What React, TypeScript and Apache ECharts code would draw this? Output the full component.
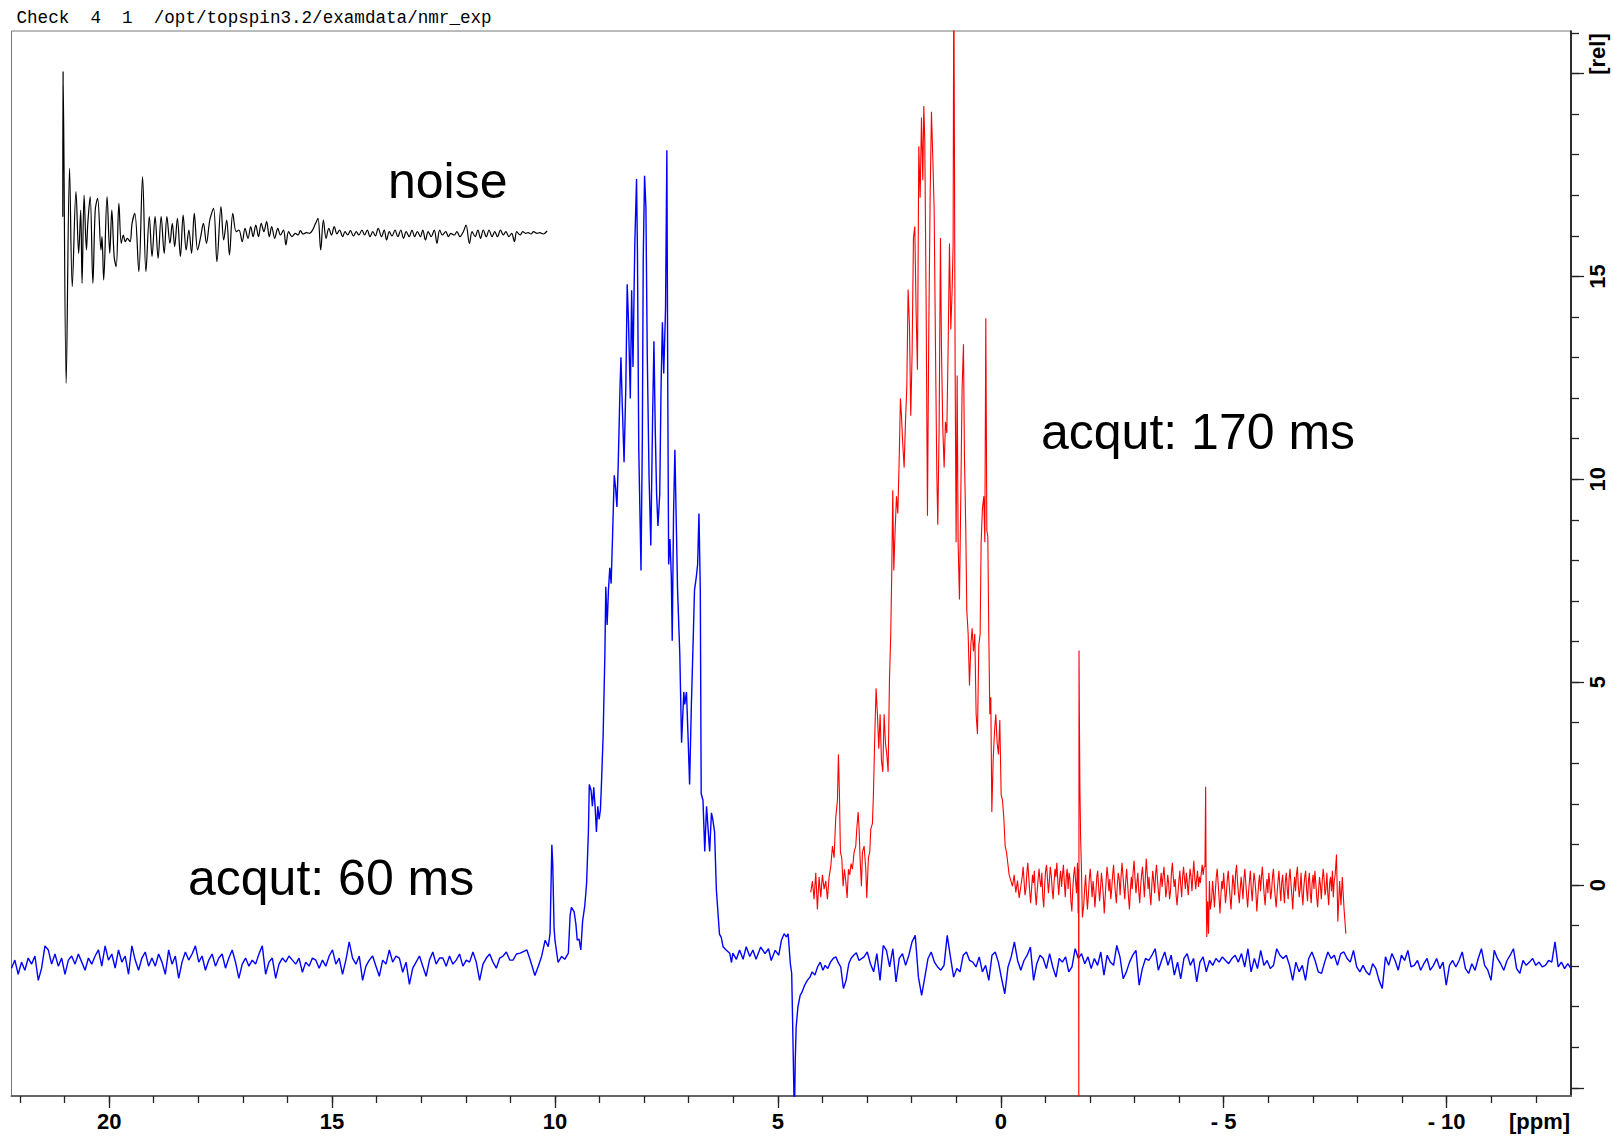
import React, { useEffect, useRef } from 'react';
import * as echarts from 'echarts';

const headerText = 'Check  4  1  /opt/topspin3.2/examdata/nmr_exp';
const xMajorTicks = [20, 15, 10, 5, 0, -5, -10];
const xMinorTicks = [22, 21, 20, 19, 18, 17, 16, 15, 14, 13, 12, 11, 10, 9, 8, 7, 6, 5, 4, 3, 2, 1, 0, -1, -2, -3, -4, -5, -6, -7, -8, -9, -10, -11, -12];
const yMajorTicks = [-5, 0, 5, 10, 15, 20];
const yLabelTicks = [0, 5, 10, 15];
const yMinorTicks = [-5, -4, -3, -2, -1, 0, 1, 2, 3, 4, 5, 6, 7, 8, 9, 10, 11, 12, 13, 14, 15, 16, 17, 18, 19, 20, 21];

// blue spectrum (acqut: 60 ms), ppm / rel
const blueLeftVals = [
  -2.05, -1.85, -2.2, -1.9, -2.1, -1.8, -1.95, -1.75, -2.35, -2.05,
  -1.5, -1.6, -1.95, -1.7, -2.0, -1.8, -2.2, -1.85, -1.75, -1.95,
  -1.7, -1.9, -2.1, -1.8, -1.95, -1.75, -1.6, -2.0, -1.5, -1.85,
  -1.7, -2.05, -1.6, -1.9, -1.75, -2.2, -1.5, -1.85, -2.1, -1.8,
  -1.65, -2.0, -1.8, -2.0, -1.7, -1.9, -2.2, -1.6, -1.95, -1.75,
  -2.3, -1.9, -1.65, -1.85, -1.7, -1.5, -1.9, -1.75, -2.1, -1.85,
  -1.7, -2.0, -1.8, -1.7, -2.05, -1.8, -1.6, -1.9, -2.3, -1.95,
  -1.8, -2.0, -1.85, -1.95, -1.7, -1.5, -2.2, -1.9, -1.8, -2.3,
  -1.95, -1.8, -1.9, -1.75, -1.85, -1.95, -1.8, -2.15, -1.9, -2.0,
  -1.8, -1.85, -2.05, -1.85, -2.0, -1.75, -1.6, -1.95, -1.8, -2.2,
  -1.85, -1.4, -1.8, -1.95, -1.75, -2.35, -2.0, -1.85, -1.75, -2.0,
  -2.25, -1.85, -1.95, -1.6, -1.9, -1.75, -1.8, -2.15, -1.9, -2.45,
  -2.05, -1.9, -1.75, -2.0, -2.25, -1.85, -1.65, -1.95, -1.8, -1.8,
  -2.0, -1.75, -1.95, -1.85, -1.7, -2.0, -1.85, -1.9, -1.65, -1.9,
  -2.35, -1.95, -1.8, -1.7, -1.9, -2.05, -1.8, -1.75, -1.65, -1.85,
  -1.85, -1.7,
];
const bluePeakPairs = [
  [10.78, -1.68], [10.63, -1.6], [10.56, -1.83], [10.45, -2.23], [10.37, -1.99], [10.3, -1.76], [10.22, -1.36], [10.15, -1.52],
  [10.11, -1.2], [10.07, 0.99], [10.05, 0.52], [10.02, -1.05], [10.0, -1.36], [9.93, -1.91], [9.85, -1.76], [9.78, -1.83],
  [9.7, -1.68], [9.66, -0.74], [9.63, -0.55], [9.57, -0.66], [9.53, -0.97], [9.5, -1.36], [9.46, -1.33], [9.42, -1.6],
  [9.38, -0.89], [9.33, -0.5], [9.29, 0.05], [9.25, 1.31], [9.23, 2.48], [9.19, 2.33], [9.16, 1.94], [9.13, 2.41],
  [9.1, 1.94], [9.07, 1.31], [9.04, 1.94], [9.01, 1.62], [8.98, 1.86], [8.96, 2.41], [8.92, 3.66], [8.88, 5.7],
  [8.86, 7.35], [8.83, 6.41], [8.8, 7.27], [8.77, 7.82], [8.74, 7.43], [8.71, 8.53], [8.67, 10.1], [8.64, 9.79],
  [8.61, 9.32], [8.58, 10.42], [8.54, 12.3], [8.52, 13.01], [8.49, 11.83], [8.45, 10.42], [8.41, 12.3], [8.38, 14.81],
  [8.35, 13.87], [8.31, 11.99], [8.28, 14.66], [8.25, 12.77], [8.21, 15.76], [8.17, 17.4], [8.15, 15.6], [8.12, 10.73],
  [8.07, 7.75], [8.04, 11.04], [8.02, 15.44], [7.99, 17.48], [7.96, 16.7], [7.93, 13.09], [7.89, 10.1], [7.85, 8.37],
  [7.81, 11.51], [7.78, 13.4], [7.75, 11.2], [7.72, 9.63], [7.69, 8.85], [7.65, 9.63], [7.62, 12.3], [7.59, 13.87],
  [7.56, 12.61], [7.52, 14.19], [7.49, 18.11], [7.47, 12.3], [7.45, 7.9], [7.42, 8.53], [7.39, 7.59], [7.37, 6.02],
  [7.34, 9.16], [7.31, 10.73], [7.28, 9.0], [7.25, 7.27], [7.2, 5.7], [7.16, 3.51], [7.11, 4.76], [7.09, 4.45],
  [7.05, 4.76], [7.01, 3.51], [6.98, 2.48], [6.94, 4.45], [6.9, 6.02], [6.87, 7.27], [6.83, 7.59], [6.8, 7.9],
  [6.77, 9.16], [6.74, 7.27], [6.72, 2.25], [6.68, 2.09], [6.64, 0.83], [6.6, 1.94], [6.57, 1.46], [6.53, 0.83],
  [6.49, 1.78], [6.46, 1.62], [6.42, 1.31], [6.38, -0.11], [6.34, -0.74], [6.31, -1.21], [6.27, -1.29], [6.23, -1.52],
  [6.16, -1.6], [6.08, -1.68], [6.04, -1.91], [6.01, -1.68], [5.93, -1.83], [5.86, -1.6], [5.78, -1.83], [5.71, -1.52],
  [5.63, -1.76], [5.56, -1.6], [5.49, -1.83],
];
const blueDipPairs = [
  [5.385, -1.53], [5.29, -1.69], [5.21, -1.57], [5.15, -1.86], [5.06, -1.61], [4.98, -1.73], [4.92, -1.36], [4.86, -1.2],
  [4.81, -1.28], [4.77, -1.2], [4.72, -1.94], [4.69, -2.18], [4.66, -3.91], [4.63, -5.8], [4.61, -4.32], [4.59, -3.5],
  [4.55, -3.0], [4.5, -2.72], [4.46, -2.64], [4.4, -2.47], [4.34, -2.35], [4.28, -2.27], [4.23, -2.14], [4.17, -2.22],
  [4.11, -2.02], [4.05, -1.9], [3.99, -2.1], [3.94, -1.98], [3.88, -2.06], [3.82, -1.9], [3.76, -1.81], [3.7, -1.77],
  [3.65, -1.9], [3.59, -2.02], [3.53, -2.55], [3.47, -2.35], [3.41, -1.94], [3.36, -1.81], [3.3, -1.73], [3.24, -1.67],
  [3.18, -1.86],
];
const blueRightVals = [
  -1.77, -1.65, -1.94, -2.14, -1.69, -2.35, -1.49, -1.61, -2.02, -1.57, -2.39, -1.81, -1.69, -1.98, -1.73, -1.4, -1.24, -2.27,
  -2.72, -2.27, -1.81, -1.65, -1.9, -2.02, -2.1, -1.98, -1.24, -1.77, -2.27, -2.06, -2.14, -1.73, -1.65, -1.86, -1.9, -2.02,
  -1.77, -2.14, -1.98, -2.35, -1.73, -1.65, -1.9, -2.31, -2.68, -2.02, -1.77, -1.4, -1.86, -2.1, -1.86, -1.73, -1.53, -2.35,
  -1.94, -1.73, -1.81, -2.06, -1.69, -2.02, -2.27, -1.81, -1.9, -1.77, -2.14, -2.02, -1.57, -1.81, -1.69, -1.94, -1.77, -2.06,
  -1.81, -1.98, -1.65, -2.22, -1.73, -1.9, -1.98, -1.49, -1.77, -2.31, -2.14, -1.9, -1.73, -1.61, -2.47, -2.06, -1.81, -1.86,
  -1.73, -1.57, -2.1, -1.86, -1.65, -1.98, -1.73, -2.22, -1.9, -2.31, -1.81, -1.69, -1.98, -1.81, -2.39, -1.9, -1.77, -2.14,
  -1.86, -1.98, -1.81, -1.9, -1.77, -1.86, -1.94, -1.81, -1.73, -1.9, -1.69, -2.02, -1.57, -2.14, -1.81, -2.06, -1.61, -1.98,
  -1.86, -2.06, -1.98, -1.57, -1.73, -1.81, -1.73, -1.98, -2.35, -1.9, -2.14, -1.98, -2.35, -1.81, -1.65, -1.86, -2.14, -2.18,
  -1.9, -1.65, -1.81, -1.73, -1.98, -1.69, -1.65, -1.81, -1.9, -1.61, -2.02, -2.14, -1.98, -2.14, -2.22, -1.94, -2.06, -2.35,
  -2.55, -1.77, -1.98, -1.69, -1.86, -2.1, -1.73, -1.86, -1.61, -2.02, -1.98, -1.86, -2.1, -1.94, -1.81, -2.1, -1.98, -1.81,
  -2.06, -1.9, -2.47, -1.98, -1.86, -2.02, -1.86, -1.65, -2.06, -2.18, -1.94, -2.1, -1.81, -1.57, -1.98, -2.1, -2.35, -1.61,
  -1.81, -1.94, -2.1, -1.86, -1.73, -1.57, -2.06, -2.18, -1.86, -1.98, -1.9, -1.81, -1.98, -1.9, -2.02, -1.98, -1.86, -1.9,
  -1.4, -2.02, -1.9, -2.06, -1.94, -2.06,
];

// red spectrum (acqut: 170 ms)
const redPeakPairs = [
  [4.263, -0.18], [4.225, 0.1], [4.188, -0.35], [4.15, 0.3], [4.113, -0.6], [4.076, 0.2], [4.038, -0.3], [4.001, 0.25],
  [3.963, -0.1], [3.926, 0.1], [3.889, -0.35], [3.851, 0.2], [3.814, 0.45], [3.776, 0.96], [3.739, 0.67], [3.702, 1.66],
  [3.664, 2.09], [3.642, 3.22], [3.619, 2.23], [3.597, 0.81], [3.567, 0.67], [3.537, -0.03], [3.507, 0.39], [3.477, 0.1],
  [3.447, -0.32], [3.417, 0.39], [3.388, 0.25], [3.358, 0.53], [3.328, 0.39], [3.29, 0.81], [3.253, 0.96], [3.23, 1.38],
  [3.2, 1.8], [3.178, 1.38], [3.156, 0.67], [3.126, -0.03], [3.103, 0.81], [3.066, 0.96], [3.028, 0.39], [3.006, -0.32],
  [2.969, 0.67], [2.939, 0.81], [2.916, 1.38], [2.879, 1.52], [2.857, 2.23], [2.827, 3.64], [2.797, 4.85], [2.767, 4.21],
  [2.737, 3.36], [2.707, 4.21], [2.677, 3.08], [2.647, 2.79], [2.617, 4.21], [2.587, 3.5], [2.557, 3.22], [2.527, 2.79],
  [2.497, 5.06], [2.468, 6.19], [2.445, 7.75], [2.423, 9.73], [2.4, 7.75], [2.37, 8.74], [2.34, 9.58], [2.31, 9.16],
  [2.28, 10.43], [2.251, 11.99], [2.228, 11.57], [2.198, 10.86], [2.168, 10.29], [2.138, 11.42], [2.108, 12.27], [2.079, 14.68],
  [2.049, 13.83], [2.019, 11.57], [1.989, 13.12], [1.959, 15.95], [1.929, 16.23], [1.899, 14.11], [1.869, 12.7], [1.839, 18.21],
  [1.809, 16.94], [1.779, 18.92], [1.749, 17.37], [1.727, 19.2], [1.705, 18.36], [1.675, 14.39], [1.645, 9.1], [1.615, 13.69],
  [1.585, 16.94], [1.555, 19.06], [1.525, 17.93], [1.495, 16.66], [1.465, 13.26], [1.435, 10.15], [1.413, 8.88], [1.383, 11.28],
  [1.353, 15.95], [1.331, 13.26], [1.301, 11.28], [1.271, 10.29], [1.241, 11.42], [1.211, 11.14], [1.181, 13.26], [1.151, 15.81],
  [1.121, 13.69], [1.091, 14.68], [1.069, 15.81], [1.054, 23], [1.039, 23], [1.024, 12.7], [1.002, 8.45], [0.979, 12.56],
  [0.957, 8.45], [0.927, 7.04], [0.897, 9.58], [0.867, 12.27], [0.837, 13.33], [0.815, 10.57], [0.785, 8.74], [0.762, 6.76],
  [0.732, 6.19], [0.702, 4.92], [0.672, 5.91], [0.643, 6.33], [0.613, 5.76], [0.583, 6.19], [0.553, 4.21], [0.523, 3.72],
  [0.493, 5.91], [0.463, 6.19], [0.441, 8.45], [0.411, 9.3], [0.381, 9.58], [0.358, 8.45], [0.336, 13.97], [0.313, 8.74],
  [0.291, 8.59], [0.269, 6.19], [0.246, 4.21], [0.224, 4.63], [0.201, 1.8], [0.171, 3.08], [0.141, 3.78], [0.112, 4.21],
  [0.082, 3.5], [0.052, 3.22], [0.022, 4.07], [-0.008, 2.23], [-0.038, 2.09], [-0.068, 1.66], [-0.098, 0.96], [-0.128, 0.81],
  [-0.158, 0.53], [-0.188, 0.25], [-0.225, 0.11], [-0.263, -0.03], [-0.3, 0.25], [-0.337, -0.18], [-0.375, 0.11], [-0.412, -0.32],
  [-0.45, -0.03],
];
const redBase1Vals = [
  0.2, 0.45, 0.1, -0.25, -0.1, 0.3, 0.55, 0.2, -0.15, -0.45, -0.1, 0.25, 0.05, 0.35, -0.2, -0.5, -0.15, 0.15, 0.4, 0.1,
  -0.05, 0.3, -0.3, -0.55, 0.0, 0.35, 0.5, 0.15, -0.2, 0.1, 0.45, 0.25, -0.1, -0.35, 0.05, 0.4, 0.2, 0.55, 0.1, -0.25,
  0.15, 0.35, -0.05, 0.25, 0.5, 0.05, -0.3, 0.2, 0.4, -0.1, 0.3, 0.15, -0.4, -0.65, -0.1, 0.25, 0.45, 0.1, -0.2, 0.55,
];
const redSpike1Pairs = [
  [-1.735, -0.7], [-1.745, 0.4], [-1.75, -6.0], [-1.755, 5.78], [-1.762, 4.3], [-1.775, 2.4], [-1.79, 1.2], [-1.81, 0.35], [-1.83, -0.8],
];
const redBase2Vals = [
  -0.5, -0.1, 0.25, -0.2, -0.6, -0.25, 0.15, 0.4, 0.05, -0.3, 0.1, -0.15, -0.55, -0.2, 0.2, 0.35, -0.05, -0.4, -0.1, 0.3,
  0.05, -0.25, -0.7, -0.3, 0.1, 0.45, 0.2, -0.15, 0.15, -0.35, -0.1, 0.25, 0.5, 0.1, -0.2, -0.45, 0.0, 0.3, 0.15, -0.25,
  0.2, 0.55, 0.25, -0.05, -0.35, 0.1, 0.4, 0.05, -0.3, -0.6, -0.15, 0.2, -0.1, 0.35, 0.6, 0.15, -0.2, 0.05, 0.3, -0.15,
  -0.45, -0.05, 0.25, 0.45, 0.1, -0.3, 0.15, 0.65, 0.3, -0.1, 0.2, -0.25, -0.5, 0.0, 0.35, 0.1, -0.2, 0.25, 0.5, 0.15,
  -0.15, -0.4, 0.05, 0.3, -0.05, 0.2, 0.45, 0.1, -0.3, -0.1, 0.25, 0.05, -0.35, -0.15, 0.3, 0.55, 0.2, -0.05, 0.15, -0.25,
  -0.5, -0.2, 0.1, 0.35, 0.0, -0.3, 0.2, 0.45, 0.15, -0.1, 0.3, 0.05, -0.25, 0.1, 0.4, 0.2, -0.15, 0.25, 0.6, 0.2,
  -0.1, 0.15, 0.35, -0.05, 0.2, 0.05, 0.3, 0.5, 0.25, 0.45,
];
const redSpike2Pairs = [
  [-4.58, 0.45], [-4.595, 2.42], [-4.605, 0.2], [-4.62, -1.28], [-4.64, -0.4], [-4.66, -1.2], [-4.68, 0.1], [-4.7, -0.6],
];
const redBase3Vals = [
  -0.35, 0.1, -0.2, -0.55, -0.15, 0.2, 0.4, 0.05, -0.3, -0.7, -0.25, 0.1, -0.1, 0.3, -0.05, -0.45, -0.2, 0.15, 0.35, 0.0,
  -0.3, -0.6, -0.15, 0.25, 0.05, -0.25, 0.3, 0.5, 0.1, -0.2, -0.45, -0.1, 0.2, -0.05, -0.35, 0.15, 0.4, 0.05, -0.25, -0.55,
  -0.2, 0.1, 0.35, -0.1, -0.4, 0.0, 0.3, 0.1, -0.2, -0.65, -0.3, 0.05, 0.25, -0.15, 0.2, 0.45, 0.1, -0.25, -0.5, -0.1,
  0.15, -0.2, 0.3, 0.05, -0.35, -0.15, 0.2, 0.4, 0.0, -0.3, -0.55, -0.2, 0.1, 0.35, -0.05, -0.4, 0.05, 0.25, -0.15, -0.45,
  0.1, 0.3, -0.1, -0.35, 0.15, 0.4, 0.05, -0.25, -0.6, -0.1, 0.2, -0.15, 0.25, 0.45, 0.0, -0.3, -0.1, 0.3, -0.2, -0.5,
  -0.05, 0.2, 0.35, -0.1, -0.4, 0.1, 0.3, -0.2, -0.45, 0.05, 0.25, -0.1, 0.35, 0.05, -0.3, -0.55, -0.15, 0.2, 0.0, -0.35,
  0.1, 0.4, 0.15, -0.25, -0.1, 0.3, -0.2, -0.5, 0.05, 0.2, -0.15, 0.35, -0.3, 0.1, 0.25,
];
const redEndPairs = [
  [-7.53, 0.75], [-7.56, -0.9], [-7.6, 0.1], [-7.63, -0.5], [-7.66, 0.2], [-7.7, -0.6], [-7.74, -1.2],
];

// FID inset ("noise"): sample position / amplitude (arbitrary units)
const fidT = [
  97, 98, 107, 117, 125, 136, 144, 150, 154, 160, 167, 171, 178, 186, 193, 200, 210, 213, 218, 228,
  236, 242, 249, 255, 263, 270, 276, 282, 288, 296, 302, 310, 322, 333, 343, 353, 361, 370, 379, 388,
  397, 405, 414, 421, 428, 436, 445, 453, 462, 470, 478, 486, 496, 505, 513, 522, 532, 543, 553, 565,
  573, 582, 590, 600, 610, 618, 628, 636, 645, 653, 660, 668, 676, 684, 692, 700, 708, 715, 724, 733,
  741, 750, 757, 765, 775, 785, 793, 800, 808, 818, 827, 836, 845, 852, 860, 868, 876, 884, 892, 900,
  908, 916, 925, 932, 940, 948, 957, 965, 973, 982, 990, 998, 1006, 1014, 1022, 1030, 1040, 1048, 1055, 1063,
  1071, 1080, 1088, 1097, 1105, 1113, 1122, 1130, 1138, 1146, 1155, 1162, 1170, 1178, 1187, 1196, 1204, 1212, 1220, 1230,
  1238, 1245, 1255, 1263, 1272, 1282, 1290, 1300, 1308, 1317, 1325, 1333, 1341, 1350, 1358, 1367, 1375, 1383, 1392, 1400,
  1408, 1417, 1425, 1433, 1440, 1450, 1458, 1466, 1474, 1482, 1490, 1500, 1508, 1518, 1530,
];
const fidA = [
  45, 480, -455, 190, -165, 120, -65, 65, -155, 110, -55, 25, 105, -155, 65, 100, -55, -15, -145, 105,
  -65, 65, -75, -105, 85, -35, -10, -30, -20, -30, 25, 55, -120, 165, -120, 45, -75, 45, -80, 45,
  -65, 45, -35, 25, -45, 40, -75, 50, -55, 5, -65, 55, -55, -15, 25, -35, 35, 70, -90, 75,
  -25, 35, -70, 55, 0, 5, -30, 10, -20, 15, -15, 20, -15, 25, 0, 30, -15, 15, -20, 10,
  -10, 5, -40, 0, -15, -5, -10, 3, -7, -3, -5, 5, 25, 40, -55, 35, -20, 10, -10, 15,
  -7, 5, -15, 0, -10, 3, -13, 0, -10, 5, -10, 5, -15, 0, -13, 10, -15, 5, -25, 0,
  -13, 5, -15, 5, -20, 0, -15, 5, -15, 0, -15, 5, -25, 0, -15, 5, -35, 5, -10, 0,
  -15, -5, -10, 0, -15, 0, 20, -35, 0, -15, 5, -20, 5, -15, 5, -15, 0, -15, 5, -10,
  0, -15, -5, -30, 0, -10, 0, -5, -3, -7, 0, -5, -3, -7, 2,
];

function seg(x0: number, x1: number, vals: number[]): number[][] {
  const n = vals.length;
  return vals.map((v, i) => [x0 + ((x1 - x0) * i) / (n - 1), v]);
}

const blueData = [
  ...seg(22.19, 10.865, blueLeftVals),
  ...bluePeakPairs,
  ...blueDipPairs,
  ...seg(3.067, -12.79, blueRightVals),
];
const redData = [
  ...redPeakPairs,
  ...seg(-0.48, -1.72, redBase1Vals),
  ...redSpike1Pairs,
  ...seg(-1.86, -4.56, redBase2Vals),
  ...redSpike2Pairs,
  ...seg(-4.73, -7.5, redBase3Vals),
  ...redEndPairs,
];
const fidData = fidT.map((t, i) => [t, fidA[i]]);

const NARROW = '"Liberation Sans Narrow", "Arial Narrow", "Liberation Sans", sans-serif';
const SANS = '"Liberation Sans", Arial, sans-serif';

export default function App() {
  const ref = useRef<HTMLDivElement>(null);
  useEffect(() => {
    if (!ref.current) return;
    const chart = echarts.init(ref.current, null, { renderer: 'svg' });
    const xCommon = {
      type: 'value', gridIndex: 0, min: -12.79, max: 22.19, inverse: true, position: 'bottom',
      splitLine: { show: false },
    };
    const yCommon = {
      type: 'value', gridIndex: 0, min: -5.2, max: 21.05, position: 'right',
      splitLine: { show: false },
    };
    chart.setOption({
      animation: false,
      backgroundColor: '#ffffff',
      grid: [
        { left: 11.5, top: 31, width: 1559.5, height: 1065, show: true, borderColor: '#777', borderWidth: 1, backgroundColor: 'transparent', containLabel: false, outerBoundsMode: 'none' },
        { left: 30, top: 50, width: 530, height: 350, show: false, containLabel: false, outerBoundsMode: 'none' },
      ],
      xAxis: [
        {
          ...xCommon,
          axisLine: { show: true, onZero: false, lineStyle: { color: '#666', width: 2 } },
          axisTick: { show: true, customValues: xMajorTicks, length: 12, lineStyle: { color: '#222', width: 1.3 } },
          axisLabel: {
            show: true, customValues: xMajorTicks, margin: 14, color: '#000', fontSize: 22, fontWeight: 'bold', fontFamily: NARROW,
            formatter: (v: number) => (v < 0 ? '- ' + Math.abs(v) : String(v)),
          },
        },
        {
          ...xCommon,
          axisLine: { show: false, onZero: false },
          axisTick: { show: true, customValues: xMinorTicks, length: 7, lineStyle: { color: '#222', width: 1.3 } },
          axisLabel: { show: false },
        },
        { type: 'value', gridIndex: 1, min: 0, max: 1568, show: false, splitLine: { show: false } },
      ],
      yAxis: [
        {
          ...yCommon,
          axisLine: { show: true, onZero: false, lineStyle: { color: '#000', width: 1.5 } },
          axisTick: { show: true, customValues: yMajorTicks, length: 13, lineStyle: { color: '#222', width: 1.3 } },
          axisLabel: { show: true, customValues: yLabelTicks, rotate: 90, margin: 15, color: '#000', fontSize: 22, fontWeight: 'bold', fontFamily: SANS },
        },
        {
          ...yCommon,
          axisLine: { show: false, onZero: false },
          axisTick: { show: true, customValues: yMinorTicks, length: 8, lineStyle: { color: '#222', width: 1.3 } },
          axisLabel: { show: false },
        },
        { type: 'value', gridIndex: 1, min: -505, max: 545, show: false, splitLine: { show: false } },
      ],
      series: [
        {
          type: 'line', name: 'acqut: 60 ms', xAxisIndex: 0, yAxisIndex: 0, data: blueData, showSymbol: false, symbol: 'none',
          lineStyle: { color: '#0000ff', width: 1.4 }, clip: true, z: 2,
        },
        {
          type: 'line', name: 'acqut: 170 ms', xAxisIndex: 0, yAxisIndex: 0, data: redData, showSymbol: false, symbol: 'none',
          lineStyle: { color: '#ff0000', width: 1.1 }, clip: true, z: 3,
        },
        {
          type: 'line', name: 'noise', xAxisIndex: 2, yAxisIndex: 2, data: fidData, showSymbol: false, symbol: 'none',
          smooth: 0.35, lineStyle: { color: '#000', width: 1.2 }, clip: false, z: 2,
        },
      ],
      graphic: [
        { type: 'text', x: 16.5, y: 18, style: { text: headerText, fontSize: 17.6, fontFamily: '"Liberation Mono", "Courier New", monospace', fill: '#000', verticalAlign: 'middle', textVerticalAlign: 'middle' } },
        { type: 'text', x: 388, y: 181, style: { text: 'noise', fontSize: 50, fontFamily: SANS, fill: '#000', verticalAlign: 'middle', textVerticalAlign: 'middle' } },
        { type: 'text', x: 1041, y: 432, style: { text: 'acqut: 170 ms', fontSize: 50, fontFamily: SANS, fill: '#000', verticalAlign: 'middle', textVerticalAlign: 'middle' } },
        { type: 'text', x: 188, y: 878, style: { text: 'acqut: 60 ms', fontSize: 50, fontFamily: SANS, fill: '#000', verticalAlign: 'middle', textVerticalAlign: 'middle' } },
        { type: 'text', x: 1539.5, y: 1121, style: { text: '[ppm]', fontSize: 22, fontWeight: 'bold', fontFamily: NARROW, fill: '#000', align: 'center', textAlign: 'center', verticalAlign: 'middle', textVerticalAlign: 'middle' } },
        { type: 'text', x: 1597, y: 54, rotation: Math.PI / 2, style: { text: '[rel]', fontSize: 22, fontWeight: 'bold', fontFamily: SANS, fill: '#000', align: 'center', textAlign: 'center', verticalAlign: 'middle', textVerticalAlign: 'middle' } },
      ],
    });
    return () => chart.dispose();
  }, []);
  return <div ref={ref} style={{ position: 'fixed', left: 0, top: 0, width: 1613, height: 1136, background: '#fff' }} />;
}
